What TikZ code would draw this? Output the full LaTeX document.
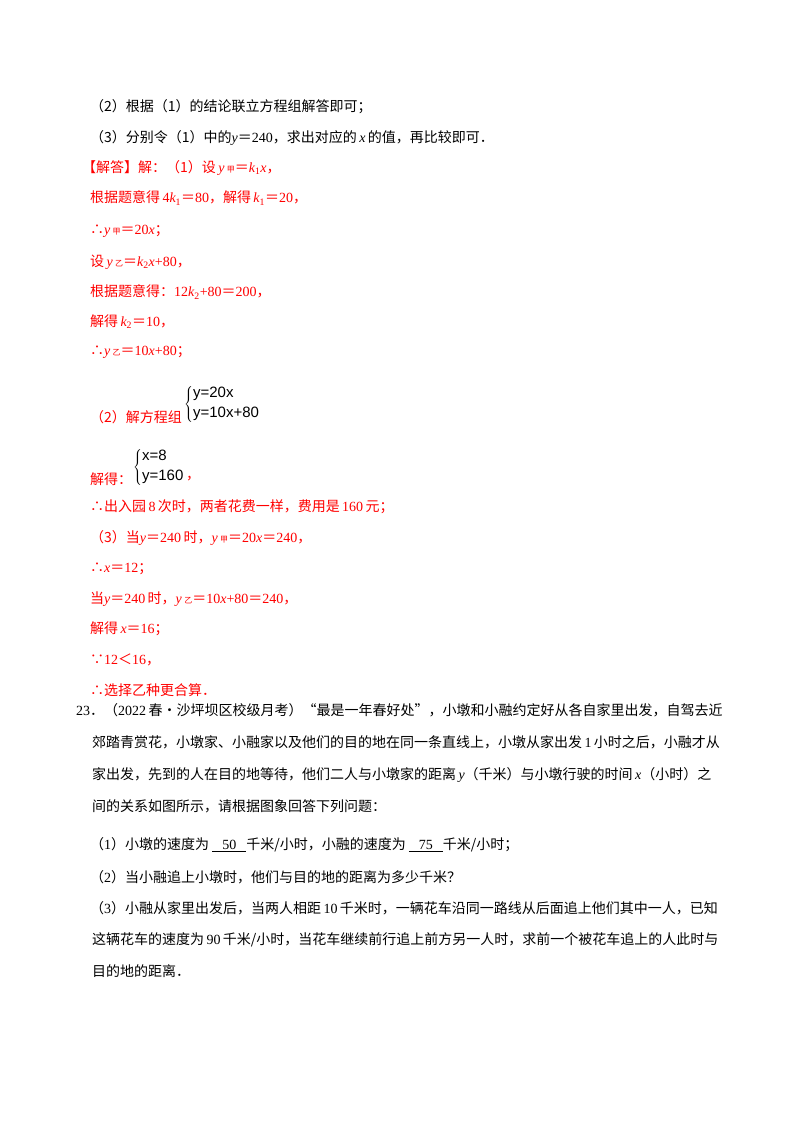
\documentclass[tikz,border=0pt]{standalone}
\usepackage{fontspec}
\setmainfont{Noto Sans CJK SC}
\newfontfamily\tm{Liberation Serif}
\newfontfamily\ar{Liberation Sans}
\newcommand\m[1]{{\tm #1}}
\newcommand\iv[1]{{\tm\itshape #1}}
\newcommand\sj[1]{{\fontsize{8}{8}\selectfont #1}}
\newcommand\sn[1]{\textsubscript{\tm #1}}
\newcommand\blank[1]{\underline{\makebox[34pt]{\m{#1}}}}
\begin{document}
\begin{tikzpicture}[x=1pt,y=-1pt,
  ln/.style={inner sep=0pt,anchor=west,font=\fontsize{14}{16}\selectfont},
  blk/.style={ln,text=black},
  rd/.style={ln,text=red},
  sys/.style={inner sep=0pt,anchor=west,font=\fontsize{15}{17}\selectfont\ar}]
\useasboundingbox[fill=white] (0,0) rectangle (800,1132);
\node[blk] (l1) at (90,107) {（2）根据（1）的结论联立方程组解答即可；};
\node[blk] (l2) at (90,138) {（3）分别令（1）中的\iv{y}＝\m{240}，求出对应的\,\iv{x}\,的值，再比较即可．};
\node[rd] (l3) at (82,168) {【解答】解：（1）设\,\iv{y}\,\sj{甲}＝\iv{k}\sn{1}\iv{x}，};
\node[rd] (l4) at (90,198) {根据题意得\,\m{4}\iv{k}\sn{1}＝\m{80}，解得\,\iv{k}\sn{1}＝\m{20}，};
\node[rd] (l5) at (90,231) {∴\iv{y}\,\sj{甲}＝\m{20}\iv{x}；};
\node[rd] (l6) at (90,262) {设\,\iv{y}\,\sj{乙}＝\iv{k}\sn{2}\iv{x}\m{+80}，};
\node[rd] (l7) at (90,292) {根据题意得：\m{12}\iv{k}\sn{2}\m{+80}＝\m{200}，};
\node[rd] (l8) at (90,322) {解得\,\iv{k}\sn{2}＝\m{10}，};
\node[rd] (l9) at (90,352) {∴\iv{y}\,\sj{乙}＝\m{10}\iv{x}\m{+80}；};
\node[rd] (l10) at (90,417) {（2）解方程组};
\node[sys] (s1) at (184,404) {$\left\{\begin{array}{@{}l@{}}\mbox{y=20x}\\[3pt]\mbox{y=10x+80}\end{array}\right.$};
\node[rd] (l11) at (90,479) {解得：};
\node[sys] (s2) at (133,467) {$\left\{\begin{array}{@{}l@{}}\mbox{x=8}\\[3pt]\mbox{y=160}\end{array}\right.$};
\node[rd] (c2) at (186,479) {，};
\node[rd] (l12) at (90,507) {∴出入园\,\m{8}\,次时，两者花费一样，费用是\,\m{160}\,元；};
\node[rd] (l13) at (90,538) {（3）当\iv{y}＝\m{240}\,时，\iv{y}\,\sj{甲}＝\m{20}\iv{x}＝\m{240}，};
\node[rd] (l14) at (90,569) {∴\iv{x}＝\m{12}；};
\node[rd] (l15) at (90,599) {当\iv{y}＝\m{240}\,时，\iv{y}\,\sj{乙}＝\m{10}\iv{x}\m{+80}＝\m{240}，};
\node[rd] (l16) at (90,629) {解得\,\iv{x}＝\m{16}；};
\node[rd] (l17) at (90,660) {∵\m{12}＜\m{16}，};
\node[rd] (l18) at (90,690) {∴选择乙种更合算．};
\node[blk] (p1) at (76,710) {\m{23}．（\m{2022}\,春•沙坪坝区校级月考）“最是一年春好处”，小墩和小融约定好从各自家里出发，自驾去近};
\node[blk] (p2) at (92,742) {郊踏青赏花，小墩家、小融家以及他们的目的地在同一条直线上，小墩从家出发\,\m{1}\,小时之后，小融才从};
\node[blk] (p3) at (92,775) {家出发，先到的人在目的地等待，他们二人与小墩家的距离\,\iv{y}（千米）与小墩行驶的时间\,\iv{x}（小时）之};
\node[blk] (p4) at (92,806) {间的关系如图所示，请根据图象回答下列问题：};
\node[blk] (q1) at (90,845) {（\m{1}）小墩的速度为\ \blank{50}千米/小时，小融的速度为\ \blank{75}千米/小时；};
\node[blk] (q2) at (90,877) {（\m{2}）当小融追上小墩时，他们与目的地的距离为多少千米？};
\node[blk] (q3) at (90,908) {（\m{3}）小融从家里出发后，当两人相距\,\m{10}\,千米时，一辆花车沿同一路线从后面追上他们其中一人，已知};
\node[blk] (q4) at (92,940) {这辆花车的速度为\,\m{90}\,千米/小时，当花车继续前行追上前方另一人时，求前一个被花车追上的人此时与};
\node[blk] (q5) at (92,971) {目的地的距离．};
\end{tikzpicture}
\end{document}
